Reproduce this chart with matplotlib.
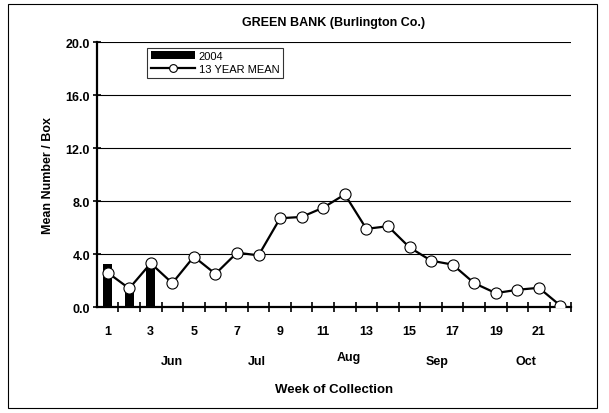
import matplotlib.pyplot as plt
import numpy as np
from matplotlib.patches import Rectangle

plt.rcParams['font.family'] = ['Liberation Sans', 'DejaVu Sans']

# data
weeks = list(range(1, 23))
mean_13yr = [2.6, 1.4, 3.3, 1.8, 3.8, 2.5, 4.1, 3.9, 6.7, 6.8, 7.5, 8.5,
             5.9, 6.1, 4.5, 3.5, 3.2, 1.8, 1.05, 1.3, 1.45, 0.1]
bar_weeks = [1, 2, 3]
bar_2004 = [3.25, 1.2, 3.35]
week_labels = [1, 3, 5, 7, 9, 11, 13, 15, 17, 19, 21]
months = ["Jun", "Jul", "Aug", "Sep", "Oct"]
month_pos = [4.0, 7.9, 12.2, 16.3, 20.4]
yticks = [0, 4, 8, 12, 16, 20]

fig = plt.figure(figsize=(6.09, 4.14), dpi=100)
ax = fig.add_axes([0.159, 0.256, 0.779, 0.64])

# outer chart border
fig.patches.append(Rectangle((8 / 609, 5 / 414), 589 / 609, 404 / 414,
                             transform=fig.transFigure, fill=False,
                             edgecolor='black', linewidth=0.8))

for y in yticks[1:]:
    ax.axhline(y, color='black', linewidth=0.8, zorder=1)

bars = ax.bar(bar_weeks, bar_2004, width=0.42, color='black', label='2004', zorder=2)
line, = ax.plot(weeks, mean_13yr, color='black', linewidth=1.6, marker='o',
                markersize=8, markerfacecolor='white', markeredgecolor='black',
                markeredgewidth=0.8, label='13 YEAR MEAN', zorder=3)

ax.set_xlim(0.5, 22.5)
ax.set_ylim(0, 20)
ax.set_yticks(yticks)
ax.set_yticklabels([f"{v:.1f}" for v in yticks], fontsize=9, fontweight='bold')
ax.tick_params(axis='y', direction='inout', length=6, width=1.2, pad=2)

ax.set_xticks(np.arange(1.5, 23, 1.0))
ax.set_xticklabels([])
ax.tick_params(axis='x', which='major', direction='inout', length=7, width=1.2)
ax.set_xticks(week_labels, minor=True)
ax.set_xticklabels([str(w) for w in week_labels], minor=True,
                   fontsize=9, fontweight='bold')
ax.tick_params(axis='x', which='minor', length=0, pad=13)

for sp in ['top', 'right']:
    ax.spines[sp].set_visible(False)
for sp in ['left', 'bottom']:
    ax.spines[sp].set_linewidth(1.6)

for m, p in zip(months, month_pos):
    dy = -0.19 if m == "Aug" else -0.205
    ax.text(p, dy, m, transform=ax.get_xaxis_transform(), ha='center', va='center',
            fontsize=9, fontweight='bold')

ax.set_xlabel("Week of Collection", fontsize=9.5, fontweight='bold', labelpad=33)
ax.set_ylabel("Mean Number / Box", fontsize=9, fontweight='bold', labelpad=8)
ax.set_title("GREEN BANK (Burlington Co.)", fontsize=9, fontweight='bold', pad=12)

leg = ax.legend([bars, line], ['2004', '13 YEAR MEAN'],
                loc='upper left', bbox_to_anchor=(0.095, 1.0), fontsize=8,
                frameon=True, fancybox=False, edgecolor='black',
                handlelength=4.0, borderpad=0.3, labelspacing=0.3,
                handletextpad=0.3, markerscale=0.7)
leg.get_frame().set_linewidth(0.8)

fig.savefig("out.png", dpi=100)
